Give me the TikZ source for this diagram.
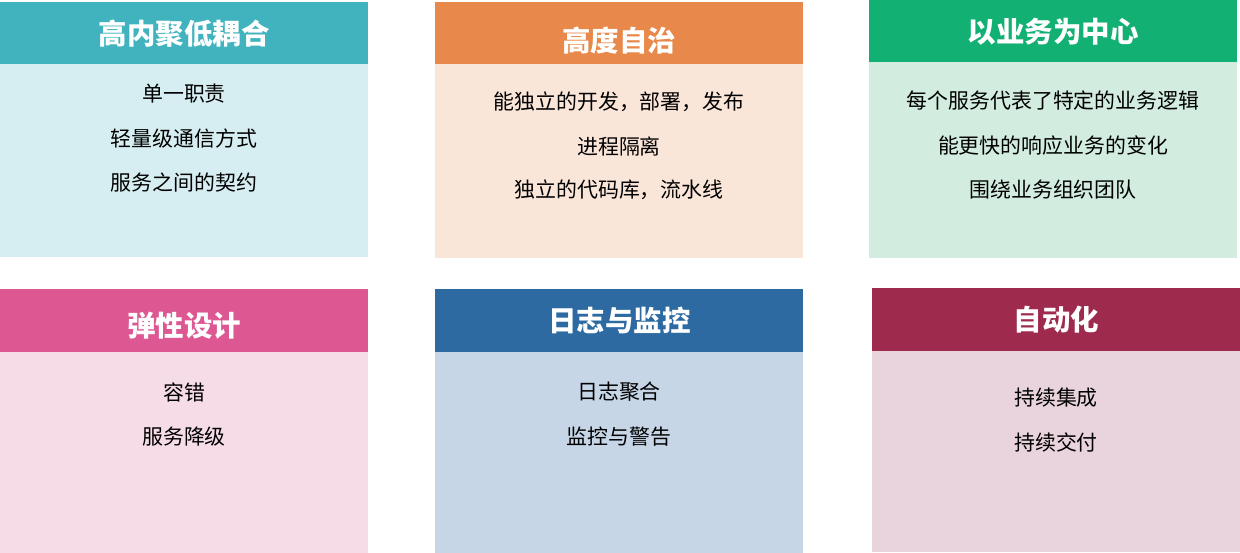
\documentclass[tikz,border=0pt]{standalone}
\usepackage{fontspec}
\setmainfont{Noto Sans CJK SC}
\usetikzlibrary{positioning}
\definecolor{tealhd}{HTML}{41B3BE}
\definecolor{tealbd}{HTML}{D6EEF1}
\definecolor{orangehd}{HTML}{E8884A}
\definecolor{orangebd}{HTML}{FAE5D9}
\definecolor{greenhd}{HTML}{12B073}
\definecolor{greenbd}{HTML}{D2ECDF}
\definecolor{pinkhd}{HTML}{DD5892}
\definecolor{pinkbd}{HTML}{F6DCE7}
\definecolor{bluehd}{HTML}{2C6AA1}
\definecolor{bluebd}{HTML}{C6D6E6}
\definecolor{winehd}{HTML}{9E2A4D}
\definecolor{winebd}{HTML}{E9D3DC}

\begin{document}
\begin{tikzpicture}[x=0.02cm, y=-0.02cm,
    head/.style={fill=#1, anchor=north west, minimum width=7.36cm, minimum height=1.25cm, inner sep=0pt, text=white, font=\fontsize{16.2}{18}\selectfont\bfseries},
    body/.style={fill=#1, anchor=north west, minimum width=7.36cm, inner sep=0pt},
    item/.style={text=black, inner sep=0pt, font=\fontsize{11.9}{13}\selectfont},
]
\useasboundingbox (0,0) rectangle (1240,553);

% Top row
\node[head=tealhd] (cohesionhd) at (0,2) {高内聚低耦合};
\node[body=tealbd, minimum height=3.86cm] (cohesion) at (0,64) {};
\node[item] (c1) at (184,94) {单一职责};
\node[item] (c2) at (184,139) {轻量级通信方式};
\node[item] (c3) at (184,183) {服务之间的契约};

\node[head=orangehd] (autonomyhd) at (435,2) {\raisebox{-0.13cm}[\height][\depth]{高度自治}};
\node[body=orangebd, minimum height=3.88cm] (autonomy) at (435,64) {};
\node[item] (a1) at (619,102) {能独立的开发，部署，发布};
\node[item] (a2) at (619,146) {进程隔离};
\node[item] (a3) at (619,190) {独立的代码库，流水线};

\node[head=greenhd] (businesshd) at (869,0) {以业务为中心};
\node[body=greenbd, minimum height=3.92cm] (business) at (869,62) {};
\node[item] (b1) at (1053,101) {每个服务代表了特定的业务逻辑};
\node[item] (b2) at (1053,146) {能更快的响应业务的变化};
\node[item] (b3) at (1053,190) {围绕业务组织团队};

% Bottom row
\node[head=pinkhd] (resiliencehd) at (0,289) {\raisebox{-0.1cm}[\height][\depth]{弹性设计}};
\node[body=pinkbd, minimum height=4.02cm] (resilience) at (0,352) {};
\node[item] (r1) at (184,392) {容错};
\node[item] (r2) at (184,437) {服务降级};

\node[head=bluehd] (monitorhd) at (435,289) {日志与监控};
\node[body=bluebd, minimum height=4.02cm] (monitor) at (435,352) {};
\node[item] (m1) at (619,392) {日志聚合};
\node[item] (m2) at (619,437) {监控与警告};

\node[head=winehd] (automationhd) at (872,288) {自动化};
\node[body=winebd, minimum height=4.02cm] (automation) at (872,351) {};
\node[item] (t1) at (1056,398) {持续集成};
\node[item] (t2) at (1056,442) {持续交付};
\end{tikzpicture}
\end{document}
